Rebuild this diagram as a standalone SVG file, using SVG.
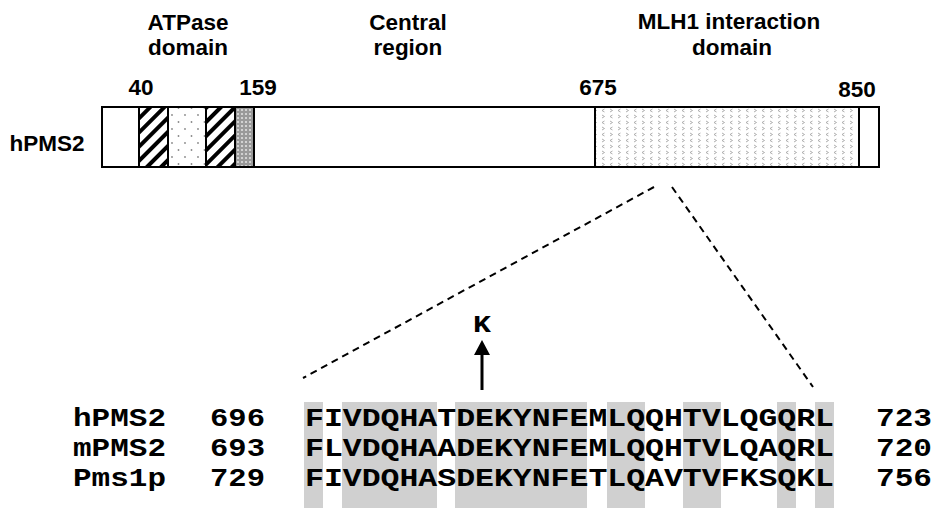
<svg xmlns="http://www.w3.org/2000/svg" width="935" height="512" viewBox="0 0 935 512">
<defs>
<style>
.lab{font-family:"Liberation Sans",Arial,sans-serif;font-weight:bold;font-size:22.5px;fill:#000;text-anchor:middle}
.seq{font-family:"Liberation Mono","Courier New",monospace;font-weight:bold;font-size:25px;fill:#000}
.shade{fill:#d0d0d0}
.box{stroke:#000;stroke-width:2}
.dash{stroke:#000;stroke-width:2;stroke-dasharray:7,5;fill:none}
</style>
<pattern id="hatch" width="10" height="10" patternUnits="userSpaceOnUse" patternTransform="rotate(-45)">
<rect width="10" height="10" fill="#fff"/>
<rect width="10" height="4" fill="#000"/>
</pattern>
<pattern id="dots" width="13" height="14" patternUnits="userSpaceOnUse">
<rect width="13" height="14" fill="#fff"/>
<circle cx="3" cy="3" r="0.9" fill="#888"/>
<circle cx="9.5" cy="10" r="0.9" fill="#888"/>
</pattern>
<pattern id="mesh" width="4" height="4" patternUnits="userSpaceOnUse">
<rect width="4" height="4" fill="#9a9a9a"/>
<circle cx="2" cy="2" r="1.1" fill="#e0e0e0"/>
</pattern>
<pattern id="chev" width="16" height="12" patternUnits="userSpaceOnUse">
<rect width="16" height="12" fill="#fff"/>
<path d="M2,1 L4.5,2.5 L2,4 M12.5,1 L10,2.5 L12.5,4 M4.5,7 L2,8.5 L4.5,10 M10,7 L12.5,8.5 L10,10" stroke="#9a9a9a" stroke-width="0.8" fill="none"/>
</pattern>
</defs>
<rect width="935" height="512" fill="#fff"/>

<g id="domain-labels">
<text class="lab" x="188" y="30">ATPase</text>
<text class="lab" x="188" y="55">domain</text>
<text class="lab" x="408" y="30">Central</text>
<text class="lab" x="408" y="55">region</text>
<text class="lab" x="729" y="29">MLH1 interaction</text>
<text class="lab" x="732" y="55">domain</text>
<text class="lab" x="141" y="95">40</text>
<text class="lab" x="258" y="95">159</text>
<text class="lab" x="598" y="95">675</text>
<text class="lab" x="857" y="97">850</text>
<text class="lab" x="47" y="151">hPMS2</text>
</g>

<g id="hPMS2-bar">
<rect class="box" x="102" y="107" width="777" height="60" fill="#fff"/>
<rect class="box" x="139" y="107" width="29" height="60" fill="url(#hatch)"/>
<rect class="box" x="168" y="107" width="38" height="60" fill="url(#dots)"/>
<rect class="box" x="206" y="107" width="29" height="60" fill="url(#hatch)"/>
<rect class="box" x="235" y="107" width="19" height="60" fill="url(#mesh)"/>
<rect class="box" x="595" y="107" width="264" height="60" fill="url(#chev)"/>
</g>

<g id="connectors">
<line class="dash" x1="654" y1="187" x2="303" y2="378"/>
<line class="dash" x1="672" y1="187" x2="813" y2="387"/>
<line x1="482" y1="390" x2="482" y2="350" stroke="#000" stroke-width="3"/>
<polygon points="482,340 474,355 490,355" fill="#000"/>
</g>

<g id="shading">
<rect class="shade" x="304" y="402" width="19" height="106"/>
<rect class="shade" x="342" y="402" width="95" height="106"/>
<rect class="shade" x="455" y="402" width="132" height="106"/>
<rect class="shade" x="607" y="402" width="38" height="106"/>
<rect class="shade" x="683" y="402" width="38" height="106"/>
<rect class="shade" x="777" y="402" width="19" height="106"/>
<rect class="shade" x="815" y="402" width="19" height="106"/>
</g>

<g id="mutation">
<text class="seq" x="473" y="332" textLength="18" lengthAdjust="spacingAndGlyphs" style="font-size:23px">K</text>
</g>

<g id="alignment">
<text class="seq" x="73" y="426" textLength="93" lengthAdjust="spacingAndGlyphs">hPMS2</text>
<text class="seq" x="210" y="426" textLength="55" lengthAdjust="spacingAndGlyphs">696</text>
<text class="seq" x="305" y="426" textLength="529" lengthAdjust="spacingAndGlyphs">FIVDQHATDEKYNFEMLQQHTVLQGQRL</text>
<text class="seq" x="876" y="426" textLength="56" lengthAdjust="spacingAndGlyphs">723</text>
<text class="seq" x="73" y="456" textLength="93" lengthAdjust="spacingAndGlyphs">mPMS2</text>
<text class="seq" x="210" y="456" textLength="55" lengthAdjust="spacingAndGlyphs">693</text>
<text class="seq" x="305" y="456" textLength="529" lengthAdjust="spacingAndGlyphs">FLVDQHAADEKYNFEMLQQHTVLQAQRL</text>
<text class="seq" x="876" y="456" textLength="56" lengthAdjust="spacingAndGlyphs">720</text>
<text class="seq" x="73" y="486" textLength="93" lengthAdjust="spacingAndGlyphs">Pms1p</text>
<text class="seq" x="210" y="486" textLength="55" lengthAdjust="spacingAndGlyphs">729</text>
<text class="seq" x="305" y="486" textLength="529" lengthAdjust="spacingAndGlyphs">FIVDQHASDEKYNFETLQAVTVFKSQKL</text>
<text class="seq" x="876" y="486" textLength="56" lengthAdjust="spacingAndGlyphs">756</text>
</g>
</svg>
